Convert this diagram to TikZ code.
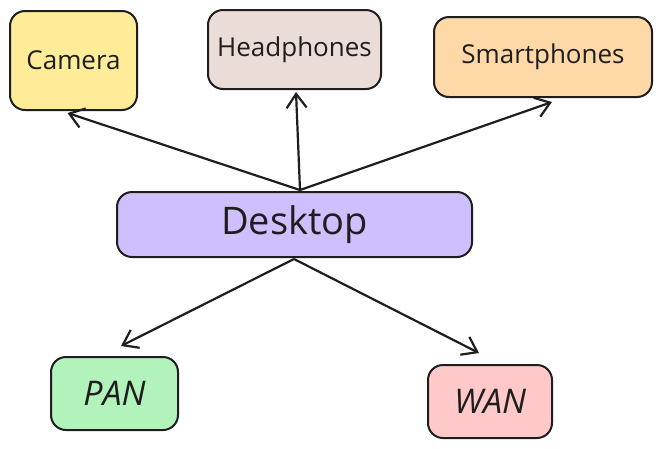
\documentclass[tikz,border=0pt]{standalone}
\usepackage{fontspec}
\setmainfont{Open Sans}
\usetikzlibrary{arrows.meta}

\definecolor{ink}{HTML}{1E1E1E}
\definecolor{cameracol}{HTML}{FFEC99}
\definecolor{headcol}{HTML}{EADDD7}
\definecolor{smartcol}{HTML}{FFD8A8}
\definecolor{desktopcol}{HTML}{D0BFFF}
\definecolor{pancol}{HTML}{B2F2BB}
\definecolor{wancol}{HTML}{FFC9C9}

\tikzset{
  device/.style={draw=ink, line width=2pt, rounded corners=15pt, inner sep=0pt,
    text=ink, font=\fontsize{26}{30}\selectfont},
  link/.style={-{Straight Barb[length=14pt,width=20pt,line width=2.2pt]}, line width=2.2pt, draw=ink},
}

\begin{document}
\begin{tikzpicture}[x=1pt,y=-1pt]
  \useasboundingbox (0,0) rectangle (662,448);

  \node[device, fill=cameracol, minimum width=127pt, minimum height=99pt] (camera) at (73.5,60.5) {Camera};
  \node[device, fill=headcol, minimum width=173pt, minimum height=79pt] (headphones) at (294.5,49.5) {Headphones};
  \node[device, fill=smartcol, minimum width=218pt, minimum height=80pt] (smartphones) at (543,57) {Smartphones};
  \node[device, fill=desktopcol, minimum width=355pt, minimum height=65pt, font=\fontsize{38}{42}\selectfont] (desktop) at (294.5,224.5) {Desktop};
  \node[device, fill=pancol, minimum width=127pt, minimum height=73pt, font=\fontsize{34}{38}\selectfont\itshape] (pan) at (114.5,393.5) {PAN};
  \node[device, fill=wancol, minimum width=124pt, minimum height=73pt, font=\fontsize{34}{38}\selectfont\itshape] (wan) at (490,401.5) {WAN};

  \coordinate (top) at (300,190);
  \coordinate (bottom) at (294,259);

  \draw[link] (top) -- ([xshift=-6pt,yshift=-2pt]camera.south);
  \draw[link] (top) -- ([xshift=1.5pt,yshift=-2pt]headphones.south);
  \draw[link] (top) -- ([xshift=9pt,yshift=-4pt]smartphones.south);
  \draw[link] (bottom) -- ([xshift=6.5pt,yshift=10pt]pan.north);
  \draw[link] (bottom) -- ([xshift=-11pt,yshift=11pt]wan.north);
\end{tikzpicture}
\end{document}
